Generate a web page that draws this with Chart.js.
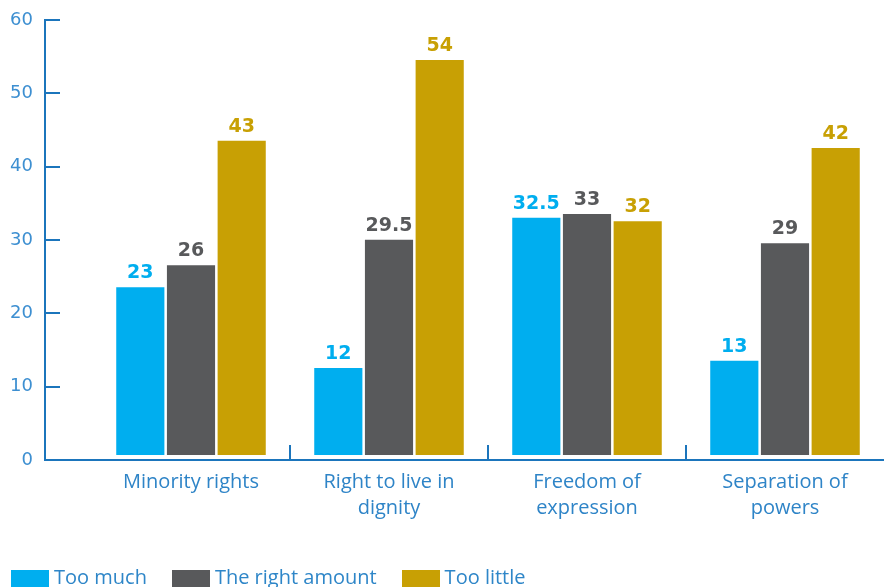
<!DOCTYPE html>
<html>
<head>
<meta charset="utf-8">
<script src="https://cdn.jsdelivr.net/npm/chart.js@4"></script>
<style>
  html, body { margin: 0; padding: 0; width: 884px; height: 587px; overflow: hidden; background: #fff; }
  #wrap { position: relative; width: 884px; height: 587px; }
  #legend { position: absolute; left: 11px; top: 567px; display: flex; align-items: flex-start; font-family: "Open Sans", sans-serif; font-size: 20px; line-height: 20px; color: #2e86c8; white-space: nowrap; }
  #legend .item { display: flex; align-items: flex-start; margin-right: 25px; }
  #legend .box { width: 38px; height: 22px; margin-top: 3px; margin-right: 5px; }
</style>
</head>
<body>
<div id="wrap">
  <canvas id="c" width="884" height="587"></canvas>
  <div id="legend"></div>
</div>
<script>
// ---- data ----
const categories = [['Minority rights'], ['Right to live in', 'dignity'], ['Freedom of', 'expression'], ['Separation of', 'powers']];
const seriesNames = ['Too much', 'The right amount', 'Too little'];
const tooMuch = [23, 12, 32.5, 13];
const rightAmount = [26, 29.5, 33, 29];
const tooLittle = [43, 54, 32, 42];
const yTicks = [0, 10, 20, 30, 40, 50, 60];

// ---- styles ----
const colors = ['#00AEEF', '#58595B', '#C8A004'];
const axisBlue = '#1b75bc';
const tickBlue = '#3d8fd1';
const labelBlue = '#2e84c7';

const barShift = {
  id: 'barShift',
  beforeDatasetsDraw(chart) { chart.ctx.save(); chart.ctx.translate(0, -4); },
  afterDatasetsDraw(chart) {
    const ctx = chart.ctx;
    ctx.font = 'bold 19px "DejaVu Sans", sans-serif';
    ctx.textAlign = 'center';
    ctx.textBaseline = 'alphabetic';
    chart.data.datasets.forEach((ds, i) => {
      const meta = chart.getDatasetMeta(i);
      ctx.fillStyle = ds.labelColor;
      meta.data.forEach((el, j) => {
        ctx.fillText(String(ds.data[j]), el.x, el.y - 9);
      });
    });
    ctx.restore();
  }
};

const htmlLegend = {
  id: 'htmlLegend',
  afterUpdate(chart) {
    const box = document.getElementById('legend');
    box.innerHTML = '';
    const items = chart.options.plugins.legend.labels.generateLabels(chart);
    items.forEach(it => {
      const d = document.createElement('div');
      d.className = 'item';
      const sw = document.createElement('span');
      sw.className = 'box';
      sw.style.background = it.fillStyle;
      const t = document.createElement('span');
      t.textContent = it.text;
      d.appendChild(sw); d.appendChild(t);
      box.appendChild(d);
    });
  }
};

const datasets = [tooMuch, rightAmount, tooLittle].map((arr, i) => ({
  label: seriesNames[i],
  data: arr,
  backgroundColor: colors[i],
  labelColor: colors[i],
  borderWidth: 0,
  categoryPercentage: 0.768,
  barPercentage: 0.95
}));

new Chart(document.getElementById('c'), {
  type: 'bar',
  data: { labels: categories, datasets },
  plugins: [barShift, htmlLegend],
  options: {
    responsive: false,
    animation: false,
    devicePixelRatio: 1,
    layout: { padding: { top: 20, right: 0, left: 0, bottom: 0 } },
    plugins: { legend: { display: false }, tooltip: { enabled: false } },
    scales: {
      x: {
        type: 'category',
        offset: true,
        afterFit(s) { s.height = 127; s.paddingLeft = 0; s.paddingRight = 0; },
        grid: {
          offset: true,
          drawOnChartArea: false,
          tickLength: -15,
          lineWidth: 2,
          color: c => (c.index >= 1 && c.index <= 3) ? axisBlue : 'rgba(0,0,0,0)'
        },
        border: { display: false },
        ticks: {
          color: labelBlue,
          font: { family: '"Open Sans", sans-serif', size: 20, lineHeight: 1.3 },
          padding: 24,
          maxRotation: 0,
          autoSkip: false
        }
      },
      y: {
        type: 'linear',
        position: 'left',
        weight: 10,
        min: 0,
        max: 60,
        afterFit(s) { s.width = 45; s.paddingTop = 0; s.paddingBottom = 0; },
        afterBuildTicks(s) { s.ticks = yTicks.map(v => ({ value: v })); },
        grid: { drawOnChartArea: false, tickLength: -15, lineWidth: 2, color: axisBlue },
        border: { display: true, color: axisBlue, width: 2 },
        ticks: {
          color: tickBlue,
          font: { family: '"DejaVu Sans", sans-serif', size: 18 },
          padding: 27
        }
      },
      y2: {
        type: 'linear',
        position: 'left',
        weight: 0,
        min: 0,
        max: 60,
        afterFit(s) { s.width = 47; s.paddingTop = 0; s.paddingBottom = 0; },
        afterBuildTicks(s) { s.ticks = yTicks.map(v => ({ value: v })); },
        grid: {
          drawOnChartArea: true,
          tickLength: 47,
          lineWidth: 2,
          color: c => (c.tick && c.tick.value === 0) ? axisBlue : 'rgba(0,0,0,0)'
        },
        border: { display: false },
        ticks: { display: false }
      }
    }
  }
});
</script>
</body>
</html>
